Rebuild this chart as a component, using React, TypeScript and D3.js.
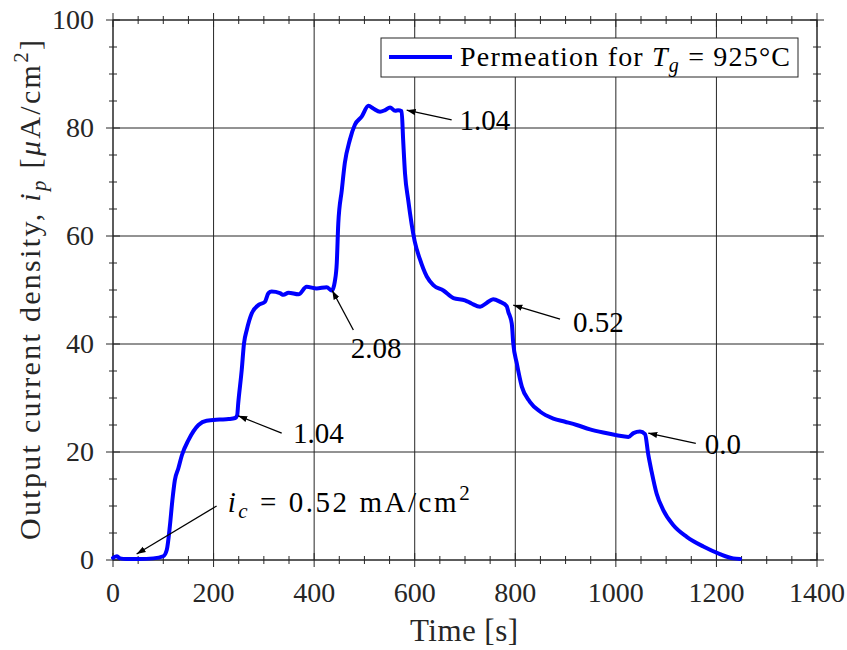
import React from 'react';
import * as d3 from 'd3';

const timeS = [0, 4, 8, 14, 27, 53, 80, 100, 107, 113, 118, 123, 130, 137, 150, 170, 186, 212, 230, 243, 247, 249, 256, 260.5, 266, 276, 289, 302, 309, 315.5, 332, 339, 349, 369, 385, 405, 425, 435, 438, 441, 445, 448, 455, 461, 471, 481, 494.5, 508, 517.6, 531, 541, 551, 561, 567, 574, 577, 580.7, 587, 600, 610, 624, 637, 657, 677, 700, 713, 730, 743, 756, 770, 783, 786, 793, 796, 803, 813, 829, 849, 875.6, 899, 922, 948.6, 975, 1001.6, 1025, 1035, 1048, 1058, 1064.5, 1071, 1081, 1094, 1114, 1141, 1174, 1207, 1233.6, 1247];
const currentDensity = [0.4, 0.6, 0.7, 0.3, 0.2, 0.2, 0.3, 0.7, 1.9, 6.2, 11, 14.8, 17, 19.4, 22.2, 25, 25.8, 26, 26.1, 26.3, 26.8, 29, 35.2, 40.1, 42.6, 45.7, 47.2, 47.8, 49.4, 49.7, 49.4, 49.1, 49.5, 49.2, 50.6, 50.3, 50.5, 49.9, 50.3, 51.5, 55, 62.3, 68.5, 73.5, 77.8, 80.6, 82.1, 84.1, 83.6, 83.0, 83.3, 83.8, 83.2, 83.3, 83.1, 77.8, 71.6, 66.7, 59, 55.8, 52.5, 50.9, 49.9, 48.5, 48.1, 47.5, 46.9, 47.6, 48.3, 47.8, 47.0, 46.0, 43.8, 40.1, 36.4, 32.1, 29.3, 27.5, 26.2, 25.6, 25, 24.2, 23.6, 23.1, 22.8, 23.5, 23.8, 23.3, 19.5, 16.4, 12.3, 9.3, 6.5, 4.3, 2.5, 1.1, 0.3, 0.2];

const xTicks = [0, 200, 400, 600, 800, 1000, 1200, 1400];
const yTicks = [0, 20, 40, 60, 80, 100];
const xMinor = d3.range(0, 1401, 50);
const yMinor = d3.range(0, 101, 5);

// annotation label, arrow head (t, v), arrow tail (t, v), text anchor (t, v)
const annLabels = ['ic', '1.04', '2.08', '1.04', '0.52', '0.0'];
const annHeadT = [47, 249, 436, 584, 796, 1064.5];
const annHeadV = [1.1, 26.7, 49.9, 83.3, 47.2, 23.5];
const annTailT = [206, 335.5, 478, 673.5, 889, 1159];
const annTailV = [10, 23.5, 42.6, 81.5, 44.6, 21.6];
const annTextT = [228, 358, 473, 689, 915, 1177];
const annTextV = [8.9, 21.7, 37.4, 79.6, 42.3, 19.6];

const FONT = '"Liberation Serif", "DejaVu Serif", serif';

export default function App() {
  const W = 847, H = 650;
  const x = d3.scaleLinear().domain([0, 1400]).range([113, 817]);
  const y = d3.scaleLinear().domain([0, 100]).range([560, 20]);
  const [x0, x1] = x.range();
  const [y0, y1] = y.range();
  const line = d3.line<number>()
    .x((_, i) => x(timeS[i]))
    .y((d) => y(d))
    .curve(d3.curveMonotoneX);
  const path = line(currentDensity) || '';

  return (
    <svg width={W} height={H} style={{ position: 'absolute', left: 0, top: 0, background: '#fff' }} fontFamily={FONT}>
      <defs>
        <marker id="ah" viewBox="0 0 10 10" refX="10" refY="5" markerWidth="9" markerHeight="9" markerUnits="userSpaceOnUse" orient="auto">
          <path d="M0,1.5 L10,5 L0,8.5 z" fill="#000" />
        </marker>
      </defs>
      <rect x={0} y={0} width={W} height={H} fill="#fff" />
      {/* grid */}
      {xTicks.map((t) => (
        <line key={'gx' + t} x1={x(t)} x2={x(t)} y1={y0} y2={y1} stroke="#262626" strokeWidth={1} />
      ))}
      {yTicks.map((t) => (
        <line key={'gy' + t} x1={x0} x2={x1} y1={y(t)} y2={y(t)} stroke="#262626" strokeWidth={1} />
      ))}
      {/* ticks */}
      {xMinor.map((t) => {
        const major = t % 200 === 0;
        const L = major ? 7 : 4;
        return (
          <g key={'mx' + t} stroke="#262626" strokeWidth={1}>
            <line x1={x(t)} x2={x(t)} y1={y0 - L} y2={y0 + L} />
            <line x1={x(t)} x2={x(t)} y1={y1 - L} y2={y1 + L} />
          </g>
        );
      })}
      {yMinor.map((t) => {
        const major = t % 20 === 0;
        const L = major ? 7 : 4;
        return (
          <g key={'my' + t} stroke="#262626" strokeWidth={1}>
            <line x1={x0 - L} x2={x0 + L} y1={y(t)} y2={y(t)} />
            <line x1={x1 - L} x2={x1 + L} y1={y(t)} y2={y(t)} />
          </g>
        );
      })}
      <rect x={x0} y={y1} width={x1 - x0} height={y0 - y1} fill="none" stroke="#262626" strokeWidth={1} />
      {/* tick labels */}
      {xTicks.map((t) => (
        <text key={'tx' + t} x={x(t)} y={602} textAnchor="middle" fontSize={28} fill="#262626">{t}</text>
      ))}
      {yTicks.map((t) => (
        <text key={'ty' + t} x={94} y={y(t) + 9} textAnchor="end" fontSize={28} fill="#262626">{t}</text>
      ))}
      {/* axis titles */}
      <text x={464} y={641} textAnchor="middle" fontSize={31} fill="#262626" textLength={108} lengthAdjust="spacing">Time [s]</text>
      <text transform="translate(40,290) rotate(-90)" textAnchor="middle" fontSize={30} fill="#262626" textLength={500} lengthAdjust="spacing">
        Output current density, <tspan fontStyle="italic">i</tspan>
        <tspan fontStyle="italic" fontSize={21} dy={6}>p</tspan>
        <tspan dy={-6}> [</tspan><tspan fontStyle="italic">μ</tspan>A/cm<tspan fontSize={21} dy={-12}>2</tspan><tspan dy={12}>]</tspan>
      </text>
      {/* data line */}
      <path d={path} fill="none" stroke="#0000ff" strokeWidth={4} strokeLinejoin="round" strokeLinecap="round" />
      {/* annotations */}
      {annLabels.map((lab, i) => (
        <g key={'a' + i}>
          <line x1={x(annTailT[i])} y1={y(annTailV[i])} x2={x(annHeadT[i])} y2={y(annHeadV[i])} stroke="#000" strokeWidth={1.3} markerEnd="url(#ah)" />
          {lab === 'ic' ? (
            <text x={x(annTextT[i])} y={y(annTextV[i])} fontSize={29} fill="#000" textLength={242} lengthAdjust="spacing">
              <tspan fontStyle="italic">i</tspan>
              <tspan fontStyle="italic" fontSize={21} dy={6}>c</tspan>
              <tspan dy={-6}>{'  =  0.52 mA/cm'}</tspan>
              <tspan fontSize={21} dy={-12}>2</tspan>
            </text>
          ) : (
            <text x={x(annTextT[i])} y={y(annTextV[i])} fontSize={29} fill="#000">{lab}</text>
          )}
        </g>
      ))}
      {/* legend */}
      <rect x={381} y={38} width={417} height={39} fill="#fff" stroke="#262626" strokeWidth={1} />
      <line x1={389} x2={452} y1={57} y2={57} stroke="#0000ff" strokeWidth={4} />
      <text x={460} y={66} fontSize={28} fill="#000" textLength={330} lengthAdjust="spacing">
        Permeation for <tspan fontStyle="italic">T</tspan>
        <tspan fontStyle="italic" fontSize={20} dy={6}>g</tspan>
        <tspan dy={-6}>{'  =  925°C'}</tspan>
      </text>
    </svg>
  );
}
